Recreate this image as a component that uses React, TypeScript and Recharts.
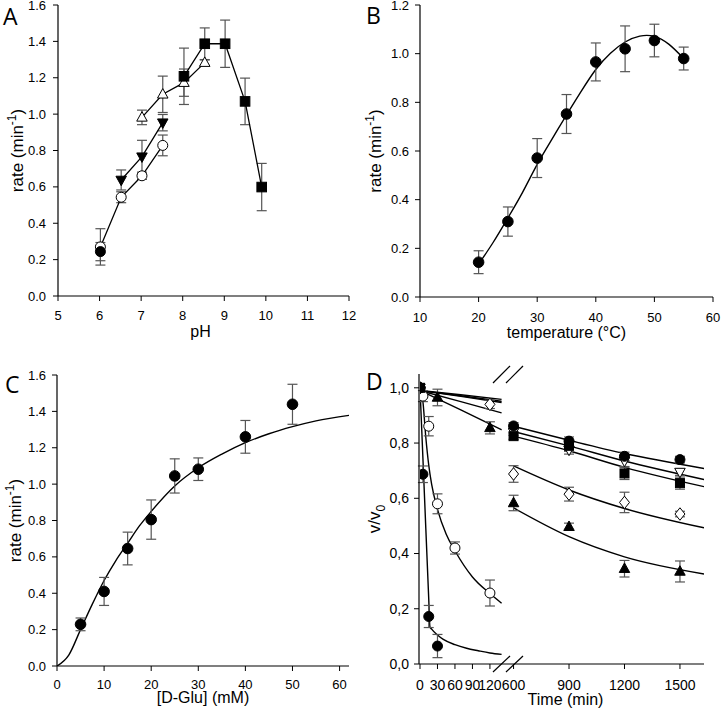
import React from 'react'
import { ComposedChart, Line, Scatter, XAxis, YAxis, ErrorBar } from 'recharts'

const FONT = "'Liberation Sans', Arial, sans-serif"

// ---- A: rate vs pH
const phDot = [6.02]
const rateDot = [0.244]
const errDot = [0.05]
const phRing = [6.02, 6.52, 7.02, 7.52]
const rateRing = [0.27, 0.543, 0.661, 0.828]
const errRing = [0.1, 0.03, 0.02, 0.057]
const phTriDown = [6.52, 7.02, 7.52]
const rateTriDown = [0.638, 0.766, 0.953]
const errTriDown = [0.055, 0.09, 0.045]
const phTriUp = [7.02, 7.52, 8.03, 8.53]
const rateTriUp = [0.982, 1.109, 1.173, 1.283]
const errTriUp = [0.04, 0.1, 0.075, 0.015]
const phSquare = [8.03, 8.53, 9.02, 9.5, 9.9]
const rateSquare = [1.208, 1.387, 1.387, 1.07, 0.599]
const errSquare = [0.155, 0.087, 0.13, 0.128, 0.13]
const phTicks = [5, 6, 7, 8, 9, 10, 11, 12]
const rateTicks16 = [0, 0.2, 0.4, 0.6, 0.8, 1.0, 1.2, 1.4, 1.6]

// ---- B: rate vs temperature
const tempC = [20, 25, 30, 35, 40, 45, 50, 55]
const rateTemp = [0.143, 0.31, 0.571, 0.752, 0.966, 1.02, 1.054, 0.98]
const errTemp = [0.047, 0.06, 0.08, 0.08, 0.078, 0.094, 0.067, 0.047]
const fitTempX = [20, 22.5, 25, 27.5, 30, 32.5, 35, 37.5, 40, 42.5, 45, 47.5, 50, 52.5, 55]
const fitTempY = [0.135, 0.225, 0.325, 0.43, 0.545, 0.648, 0.748, 0.845, 0.935, 1.002, 1.048, 1.072, 1.071, 1.038, 0.98]
const tempTicks = [10, 20, 30, 40, 50, 60]
const rateTicks12 = [0, 0.2, 0.4, 0.6, 0.8, 1.0, 1.2]

// ---- C: rate vs [D-Glu]
const gluMM = [5, 10, 15, 20, 25, 30, 40, 50]
const rateGlu = [0.229, 0.41, 0.646, 0.805, 1.045, 1.082, 1.26, 1.439]
const errGlu = [0.035, 0.077, 0.09, 0.108, 0.094, 0.062, 0.09, 0.11]
const fitGluX = [0, 2.5, 5, 7.5, 10, 12.5, 15, 17.5, 20, 25, 30, 35, 40, 45, 50, 55, 62]
const fitGluY = [0, 0.06, 0.2, 0.34, 0.47, 0.58, 0.675, 0.77, 0.85, 0.99, 1.09, 1.165, 1.228, 1.277, 1.316, 1.348, 1.378]
const gluTicks = [0, 10, 20, 30, 40, 50, 60]

// ---- D: v/v0 vs time (broken axis)
const tFast = [0, 5, 15, 30]
const vFast = [1.0, 0.687, 0.172, 0.065]
const eFast = [0, 0.03, 0.04, 0.042]
const tRing = [0, 5, 15, 30, 60, 120]
const vRing = [1.0, 0.97, 0.861, 0.58, 0.42, 0.257]
const eRing = [0, 0.02, 0.035, 0.036, 0.022, 0.047]
const tSlow = [0, 600, 900, 1200, 1500]
const vSlowDot = [1.0, 0.862, 0.807, 0.752, 0.74]
const eSlowDot = [0, 0.012, 0.015, 0.015, 0.012]
const vSlowTriDown = [1.0, 0.84, 0.775, 0.735, 0.695]
const eSlowTriDown = [0, 0.012, 0.015, 0.02, 0.012]
const vSlowSquare = [1.0, 0.825, 0.79, 0.69, 0.655]
const eSlowSquare = [0, 0.012, 0.02, 0.022, 0.022]
const tDiamond = [0, 120, 600, 900, 1200, 1500]
const vDiamond = [1.0, 0.94, 0.688, 0.615, 0.585, 0.543]
const eDiamond = [0, 0.015, 0.03, 0.025, 0.037, 0.01]
const tTri = [0, 30, 120, 600, 900, 1200, 1500]
const vTri = [1.0, 0.965, 0.855, 0.583, 0.497, 0.345, 0.335]
const eTri = [0, 0.03, 0.022, 0.028, 0.013, 0.03, 0.038]

const fitFastT = [0, 5, 10, 15, 17, 20, 30, 40, 60, 80, 100, 120, 140]
const fitFastV = [1.0, 0.745, 0.49, 0.235, 0.135, 0.126, 0.105, 0.089, 0.07, 0.057, 0.048, 0.04, 0.035]
const fitRingT = [0, 5, 10, 15, 20, 30, 45, 60, 90, 120, 140]
const fitRingV = [1.0, 0.95, 0.82, 0.72, 0.65, 0.56, 0.47, 0.41, 0.315, 0.255, 0.22]
const fitEarlyT = [0, 70, 140]
const fitEarlyDot = [0.99, 0.975, 0.958]
const fitEarlyTriDown = [0.99, 0.971, 0.951]
const fitEarlySquare = [0.99, 0.969, 0.947]
const fitEarlyDiamond = [0.99, 0.95, 0.909]
const fitEarlyTri = [0.99, 0.92, 0.848]
const fitLateT = [600, 900, 1200, 1630]
const fitLateDot = [0.861, 0.81, 0.762, 0.708]
const fitLateTriDown = [0.842, 0.79, 0.735, 0.668]
const fitLateSquare = [0.825, 0.772, 0.712, 0.642]
const fitLateDiamond = [0.717, 0.63, 0.563, 0.493]
const fitLateTri = [0.565, 0.461, 0.388, 0.326]
const timeTicksEarly = [0, 30, 60, 90, 120]
const timeTicksLate = [600, 900, 1200, 1500]
const vTicks = [0, 0.2, 0.4, 0.6, 0.8, 1.0]

type Pt = { x: number; y: number; e: number }
const pts = (xs: number[], ys: number[], es?: number[]): Pt[] =>
  xs.map((x, i) => ({ x, y: ys[i], e: es ? es[i] : 0 }))
const early = (p: Pt[]) => p.filter((d) => d.x <= 151)
const late = (p: Pt[]) => p.filter((d) => d.x >= 570)

type Kind = 'dot' | 'ring' | 'square' | 'tri' | 'triOpen' | 'triDown' | 'triDownOpen' | 'diamondOpen'

function Marker({ cx, cy, kind, s = 5 }: { cx: number; cy: number; kind: Kind; s?: number }) {
  if (cx == null || cy == null) return null
  const open = kind === 'ring' || kind === 'triOpen' || kind === 'triDownOpen' || kind === 'diamondOpen'
  const fill = open ? '#fff' : '#000'
  const common = { fill, stroke: '#000', strokeWidth: 1 }
  if (kind === 'dot' || kind === 'ring') return <circle cx={cx} cy={cy} r={s} {...common} />
  if (kind === 'square') return <rect x={cx - s} y={cy - s} width={s * 2} height={s * 2} {...common} />
  if (kind === 'tri' || kind === 'triOpen')
    return <polygon points={`${cx},${cy - s * 1.15} ${cx + s * 1.05},${cy + s * 0.75} ${cx - s * 1.05},${cy + s * 0.75}`} {...common} />
  if (kind === 'triDown' || kind === 'triDownOpen')
    return <polygon points={`${cx},${cy + s * 1.15} ${cx + s * 1.05},${cy - s * 0.75} ${cx - s * 1.05},${cy - s * 0.75}`} {...common} />
  return <polygon points={`${cx},${cy - s * 1.25} ${cx + s},${cy} ${cx},${cy + s * 1.25} ${cx - s},${cy}`} {...common} />
}

const dotOf = (kind: Kind, s?: number) => (p: any) =>
  <Marker key={`${kind}-${p.index}`} cx={p.cx} cy={p.cy} kind={kind} s={s} />
const shapeOf = (kind: Kind, s?: number) => (p: any) => <Marker cx={p.cx} cy={p.cy} kind={kind} s={s} />

function YTitle(props: any) {
  const { viewBox, dx, text, sup, sub } = props
  const x = viewBox.x + dx
  const y = viewBox.y + viewBox.height / 2
  return (
    <text transform={`translate(${x},${y}) rotate(-90)`} textAnchor="middle" fontSize={17} fontFamily={FONT} fill="#000">
      <tspan>{text}</tspan>
      {sup && <tspan dy={-7} fontSize={12}>{sup}</tspan>}
      {sup && <tspan dy={7}>)</tspan>}
      {sub && <tspan dy={5} fontSize={12}>{sub}</tspan>}
    </text>
  )
}

function XTitle(props: any) {
  const { viewBox, off, text, dx = 0 } = props
  return (
    <text x={viewBox.x + viewBox.width / 2 + dx} y={viewBox.y + viewBox.height - off} textAnchor="middle" fontSize={16} fontFamily={FONT} fill="#000">
      {text}
    </text>
  )
}

const tick13 = { fill: '#000', fontSize: 13, fontFamily: FONT }
const tick14 = { fill: '#000', fontSize: 14, fontFamily: FONT }
const axisLine = { stroke: '#000', strokeWidth: 1.2 }
const tickLine = { stroke: '#000' }
const fix1 = (v: number) => v.toFixed(1)
const comma1 = (v: number) => v.toFixed(1).replace('.', ',')
const ERR = { direction: 'y' as const, width: 5, stroke: '#555', strokeWidth: 1.2 }

export default function App() {
  return (
    <div style={{ position: 'absolute', left: 0, top: 0, width: 721, height: 713, background: '#fff' }}>
      {/* A */}
      <div style={{ position: 'absolute', left: 0, top: 0 }}>
        <ComposedChart width={360} height={345} margin={{ top: 5, right: 11, bottom: 0, left: 0 }}>
          <XAxis dataKey="x" type="number" domain={[5, 12]} ticks={phTicks} allowDataOverflow interval={0}
            height={49} tickSize={5} tickMargin={10} tick={tick13} axisLine={axisLine} tickLine={tickLine}
            label={{ content: (p: any) => <XTitle {...p} off={8} dx={-3} text="pH" /> }} />
          <YAxis dataKey="y" type="number" domain={[0, 1.6]} ticks={rateTicks16} tickFormatter={fix1} allowDataOverflow interval={0}
            width={58} tickSize={5} tickMargin={7} tick={tick13} axisLine={axisLine} tickLine={tickLine}
            label={{ content: (p: any) => <YTitle {...p} dx={23} text="rate (min" sup="-1" /> }} />
          <XAxis xAxisId="top" orientation="top" type="number" domain={[0, 1]} height={0} tick={false} tickLine={false} axisLine={axisLine} />
          <YAxis yAxisId="right" orientation="right" type="number" domain={[0, 1]} width={0} tick={false} tickLine={false} axisLine={axisLine} />
          <Line data={pts(phRing, rateRing, errRing)} dataKey="y" stroke="#000" strokeWidth={1.3} dot={dotOf('ring')} activeDot={false} isAnimationActive={false}>
            <ErrorBar dataKey="e" {...ERR} />
          </Line>
          <Line data={pts(phDot, rateDot, errDot)} dataKey="y" stroke="#000" strokeWidth={1.3} dot={dotOf('dot')} activeDot={false} isAnimationActive={false}>
            <ErrorBar dataKey="e" {...ERR} />
          </Line>
          <Line data={pts(phTriDown, rateTriDown, errTriDown)} dataKey="y" stroke="#000" strokeWidth={1.3} dot={dotOf('triDown')} activeDot={false} isAnimationActive={false}>
            <ErrorBar dataKey="e" {...ERR} />
          </Line>
          <Line data={pts(phTriUp, rateTriUp, errTriUp)} dataKey="y" stroke="#000" strokeWidth={1.3} dot={dotOf('triOpen')} activeDot={false} isAnimationActive={false}>
            <ErrorBar dataKey="e" {...ERR} />
          </Line>
          <Line data={pts(phSquare, rateSquare, errSquare)} dataKey="y" stroke="#000" strokeWidth={1.3} dot={dotOf('square', 4.8)} activeDot={false} isAnimationActive={false}>
            <ErrorBar dataKey="e" {...ERR} />
          </Line>
        </ComposedChart>
      </div>

      {/* B */}
      <div style={{ position: 'absolute', left: 360, top: 0 }}>
        <ComposedChart width={361} height={345} margin={{ top: 5, right: 8, bottom: 0, left: 0 }}>
          <XAxis dataKey="x" type="number" domain={[10, 60]} ticks={tempTicks} allowDataOverflow interval={0}
            height={48} tickSize={5} tickMargin={11} tick={tick13} axisLine={axisLine} tickLine={tickLine}
            label={{ content: (p: any) => <XTitle {...p} off={7} text="temperature (°C)" /> }} />
          <YAxis dataKey="y" type="number" domain={[0, 1.2]} ticks={rateTicks12} tickFormatter={fix1} allowDataOverflow interval={0}
            width={60} tickSize={5} tickMargin={6} tick={tick13} axisLine={axisLine} tickLine={tickLine}
            label={{ content: (p: any) => <YTitle {...p} dx={21} text="rate (min" sup="-1" /> }} />
          <XAxis xAxisId="top" orientation="top" type="number" domain={[0, 1]} height={0} tick={false} tickLine={false} axisLine={axisLine} />
          <YAxis yAxisId="right" orientation="right" type="number" domain={[0, 1]} width={0} tick={false} tickLine={false} axisLine={axisLine} />
          <Line data={pts(fitTempX, fitTempY)} dataKey="y" type="natural" stroke="#000" strokeWidth={1.4} dot={false} activeDot={false} isAnimationActive={false} />
          <Scatter data={pts(tempC, rateTemp, errTemp)} shape={shapeOf('dot', 5.3)} isAnimationActive={false}>
            <ErrorBar dataKey="e" {...ERR} />
          </Scatter>
        </ComposedChart>
      </div>

      {/* C */}
      <div style={{ position: 'absolute', left: 0, top: 350 }}>
        <ComposedChart width={360} height={363} margin={{ top: 25, right: 11, bottom: 0, left: 0 }}>
          <XAxis dataKey="x" type="number" domain={[0, 62]} ticks={gluTicks} allowDataOverflow interval={0}
            height={47} tickSize={5} tickMargin={9} tick={tick13} axisLine={axisLine} tickLine={tickLine}
            label={{ content: (p: any) => <XTitle {...p} off={10} text="[D-Glu] (mM)" /> }} />
          <YAxis dataKey="y" type="number" domain={[0, 1.6]} ticks={rateTicks16} tickFormatter={fix1} allowDataOverflow interval={0}
            width={57} tickSize={5} tickMargin={6} tick={tick13} axisLine={axisLine} tickLine={tickLine}
            label={{ content: (p: any) => <YTitle {...p} dx={21} text="rate (min" sup="-1" /> }} />
          <XAxis xAxisId="top" orientation="top" type="number" domain={[0, 1]} height={0} tick={false} tickLine={false} axisLine={axisLine} />
          <YAxis yAxisId="right" orientation="right" type="number" domain={[0, 1]} width={0} tick={false} tickLine={false} axisLine={axisLine} />
          <Line data={pts(fitGluX, fitGluY)} dataKey="y" type="monotone" stroke="#000" strokeWidth={1.4} dot={false} activeDot={false} isAnimationActive={false} />
          <Scatter data={pts(gluMM, rateGlu, errGlu)} shape={shapeOf('dot', 5.3)} isAnimationActive={false}>
            <ErrorBar dataKey="e" {...ERR} />
          </Scatter>
        </ComposedChart>
      </div>

      {/* D, early segment with y axis and frame */}
      <div style={{ position: 'absolute', left: 360, top: 350 }}>
        <ComposedChart width={361} height={363} margin={{ top: 24, right: 17, bottom: 0, left: 0 }}>
          <XAxis dataKey="x" type="number" domain={[0, 151]} padding={{ left: 1, right: 196 }} ticks={timeTicksEarly} allowDataOverflow interval={0}
            height={49} tickSize={5} tickMargin={11} tick={tick14} axisLine={axisLine} tickLine={tickLine}
            label={{ content: (p: any) => <XTitle {...p} off={8} dx={4} text="Time (min)" /> }} />
          <YAxis dataKey="y" type="number" domain={[0, 1.05]} ticks={vTicks} tickFormatter={comma1} allowDataOverflow interval={0}
            width={59} tickSize={5} tickMargin={5} tick={tick14} axisLine={axisLine} tickLine={tickLine}
            label={{ content: (p: any) => <YTitle {...p} dx={20} text="v/v" sub="0" /> }} />
          <XAxis xAxisId="top" orientation="top" type="number" domain={[0, 1]} height={0} tick={false} tickLine={false} axisLine={axisLine} />
          <YAxis yAxisId="right" orientation="right" type="number" domain={[0, 1]} width={0} tick={false} tickLine={false} axisLine={axisLine} />
          <Line data={pts(fitFastT, fitFastV)} dataKey="y" type="monotone" stroke="#000" strokeWidth={1.4} dot={false} activeDot={false} isAnimationActive={false} />
          <Line data={pts(fitRingT, fitRingV)} dataKey="y" type="monotone" stroke="#000" strokeWidth={1.4} dot={false} activeDot={false} isAnimationActive={false} />
          <Line data={pts(fitEarlyT, fitEarlyDot)} dataKey="y" type="monotone" stroke="#000" strokeWidth={1.4} dot={false} activeDot={false} isAnimationActive={false} />
          <Line data={pts(fitEarlyT, fitEarlyTriDown)} dataKey="y" type="monotone" stroke="#000" strokeWidth={1.4} dot={false} activeDot={false} isAnimationActive={false} />
          <Line data={pts(fitEarlyT, fitEarlySquare)} dataKey="y" type="monotone" stroke="#000" strokeWidth={1.4} dot={false} activeDot={false} isAnimationActive={false} />
          <Line data={pts(fitEarlyT, fitEarlyDiamond)} dataKey="y" type="monotone" stroke="#000" strokeWidth={1.4} dot={false} activeDot={false} isAnimationActive={false} />
          <Line data={pts(fitEarlyT, fitEarlyTri)} dataKey="y" type="monotone" stroke="#000" strokeWidth={1.4} dot={false} activeDot={false} isAnimationActive={false} />
          <Scatter data={pts(tRing, vRing, eRing)} shape={shapeOf('ring')} isAnimationActive={false}>
            <ErrorBar dataKey="e" {...ERR} />
          </Scatter>
          <Scatter data={pts(tFast, vFast, eFast)} shape={shapeOf('dot')} isAnimationActive={false}>
            <ErrorBar dataKey="e" {...ERR} />
          </Scatter>
          <Scatter data={early(pts(tDiamond, vDiamond, eDiamond))} shape={shapeOf('diamondOpen')} isAnimationActive={false}>
            <ErrorBar dataKey="e" {...ERR} />
          </Scatter>
          <Scatter data={early(pts(tTri, vTri, eTri))} shape={shapeOf('tri')} isAnimationActive={false}>
            <ErrorBar dataKey="e" {...ERR} />
          </Scatter>
          <Scatter data={early(pts(tSlow, vSlowDot, eSlowDot))} shape={shapeOf('dot')} isAnimationActive={false} />
          <Scatter data={early(pts(tSlow, vSlowTriDown, eSlowTriDown))} shape={shapeOf('triDownOpen')} isAnimationActive={false} />
          <Scatter data={early(pts(tSlow, vSlowSquare, eSlowSquare))} shape={shapeOf('square', 4.5)} isAnimationActive={false} />
        </ComposedChart>
      </div>

      {/* D, late segment */}
      <div style={{ position: 'absolute', left: 360, top: 350 }}>
        <ComposedChart width={361} height={363} margin={{ top: 24, right: 17, bottom: 0, left: 0 }}>
          <XAxis dataKey="x" type="number" domain={[570, 1630]} padding={{ left: 89, right: 0 }} ticks={timeTicksLate} allowDataOverflow interval={0}
            height={49} tickSize={5} tickMargin={11} tick={tick14} axisLine={false} tickLine={tickLine} />
          <YAxis dataKey="y" type="number" domain={[0, 1.05]} allowDataOverflow width={59} tick={false} tickLine={false} axisLine={false} />
          <Line data={pts(fitLateT, fitLateDot)} dataKey="y" type="monotone" stroke="#000" strokeWidth={1.4} dot={false} activeDot={false} isAnimationActive={false} />
          <Line data={pts(fitLateT, fitLateTriDown)} dataKey="y" type="monotone" stroke="#000" strokeWidth={1.4} dot={false} activeDot={false} isAnimationActive={false} />
          <Line data={pts(fitLateT, fitLateSquare)} dataKey="y" type="monotone" stroke="#000" strokeWidth={1.4} dot={false} activeDot={false} isAnimationActive={false} />
          <Line data={pts(fitLateT, fitLateDiamond)} dataKey="y" type="monotone" stroke="#000" strokeWidth={1.4} dot={false} activeDot={false} isAnimationActive={false} />
          <Line data={pts(fitLateT, fitLateTri)} dataKey="y" type="monotone" stroke="#000" strokeWidth={1.4} dot={false} activeDot={false} isAnimationActive={false} />
          <Scatter data={late(pts(tDiamond, vDiamond, eDiamond))} shape={shapeOf('diamondOpen')} isAnimationActive={false}>
            <ErrorBar dataKey="e" {...ERR} />
          </Scatter>
          <Scatter data={late(pts(tTri, vTri, eTri))} shape={shapeOf('tri')} isAnimationActive={false}>
            <ErrorBar dataKey="e" {...ERR} />
          </Scatter>
          <Scatter data={late(pts(tSlow, vSlowTriDown, eSlowTriDown))} shape={shapeOf('triDownOpen')} isAnimationActive={false}>
            <ErrorBar dataKey="e" {...ERR} />
          </Scatter>
          <Scatter data={late(pts(tSlow, vSlowSquare, eSlowSquare))} shape={shapeOf('square', 4.5)} isAnimationActive={false}>
            <ErrorBar dataKey="e" {...ERR} />
          </Scatter>
          <Scatter data={late(pts(tSlow, vSlowDot, eSlowDot))} shape={shapeOf('dot')} isAnimationActive={false}>
            <ErrorBar dataKey="e" {...ERR} />
          </Scatter>
        </ComposedChart>
      </div>

      {/* panel letters and axis-break marks */}
      <svg width={721} height={713} style={{ position: 'absolute', left: 0, top: 0, pointerEvents: 'none' }}>
        <g fontFamily="'Open Sans', sans-serif" fontSize={23} fill="#000">
          <text x={3} y={25}>A</text>
          <text x={366} y={24}>B</text>
          <text x={5} y={393}>C</text>
          <text x={366} y={390}>D</text>
        </g>
        <g stroke="#000" strokeWidth={1.2}>
          <line x1={493} y1={383} x2={510} y2={366} />
          <line x1={506} y1={383} x2={523} y2={366} />
          <line x1={493} y1={672} x2={510} y2={656} />
          <line x1={506} y1={672} x2={523} y2={656} />
        </g>
      </svg>
    </div>
  )
}
